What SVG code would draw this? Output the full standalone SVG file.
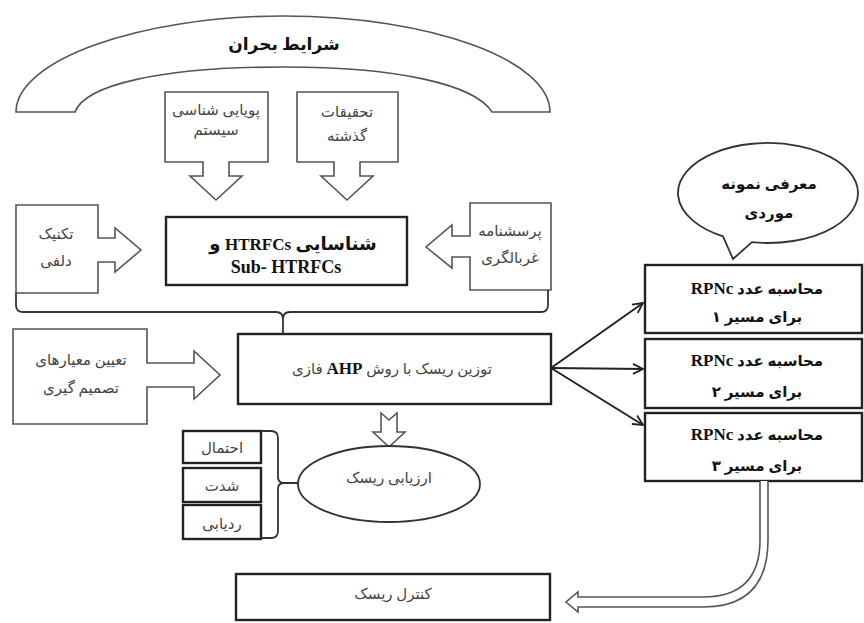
<svg xmlns="http://www.w3.org/2000/svg" width="864" height="623" viewBox="0 0 864 623">
<defs>
<style>
.ol{fill:#fff;stroke:#555;stroke-width:1.6;stroke-linejoin:miter}
.bx{fill:#fff;stroke:#222;stroke-width:2.4}
.bn{fill:#fff;stroke:#333;stroke-width:1.8}
.ln{fill:none;stroke:#333;stroke-width:1.8}
.cn{fill:none;stroke:#222;stroke-width:2}
.t{font-family:"Liberation Serif","DejaVu Sans",serif;font-size:15px;fill:#444;text-anchor:middle;direction:rtl}
.b{font-weight:bold;fill:#111}
.big{font-size:18px}
.arch{font-size:17px}
.lat{font-family:"Liberation Serif",serif;font-size:17px}
</style>
<marker id="ah" viewBox="0 0 12 12" refX="11" refY="6" markerWidth="12" markerHeight="12" markerUnits="userSpaceOnUse" orient="auto">
<path d="M1,1 L11,6 L1,11" fill="none" stroke="#222" stroke-width="1.8"/>
</marker>
</defs>
<rect width="864" height="623" fill="#fff"/>

<g id="crisis">
<path class="ol" d="M16,112 C16,60 140,16 284,16 C430,16 550,60 550,112 L492,112 C475,85 400,67 284,67 C160,67 85,85 75,112 Z"/>
<text class="t b arch" x="284" y="50">شرایط بحران</text>
</g>

<g id="system-dynamics">
<path class="ol" d="M165,92 H268 V162 H229 V176 H242 L216,200 L190,176 H203 V162 H165 Z"/>
<text class="t" x="216" y="115">پویایی شناسی</text>
<text class="t" x="216" y="135">سیستم</text>
</g>

<g id="past-research">
<path class="ol" d="M297,92 H398 V162 H360 V176 H373 L347,200 L321,176 H334 V162 H297 Z"/>
<text class="t" x="347" y="117">تحقیقات</text>
<text class="t" x="347" y="141">گذشته</text>
</g>

<g id="delphi">
<path class="ol" d="M16,205 H98 V238 H115 V228 L141,250 L115,272 V262 H98 V293 H16 Z"/>
<text class="t" x="56" y="239">تکنیک</text>
<text class="t" x="56" y="266">دلفی</text>
</g>

<g id="questionnaire">
<path class="ol" d="M551,203 H470 V236 H452 V225 L426,247 L452,268 V257 H470 V290 H551 Z"/>
<text class="t" x="510" y="236">پرسشنامه</text>
<text class="t" x="510" y="263">غربالگری</text>
</g>

<g id="identify">
<rect class="bx" x="166" y="217" width="241" height="68"/>
<text class="t b big" x="293" y="250">شناسایی <tspan class="lat">HTRFCs</tspan> و</text>
<text class="t b big" x="286" y="273" style="direction:ltr;font-family:'Liberation Serif',serif">Sub- HTRFCs</text>
</g>

<g id="criteria">
<path class="ol" d="M13,329 H147 V363 H194 V351 L220,375 L194,399 V387 H147 V424 H13 Z"/>
<text class="t" x="81" y="365">تعیین معیارهای</text>
<text class="t" x="81" y="393">تصمیم گیری</text>
</g>

<g id="ahp">
<rect class="bx" x="238" y="334" width="313" height="70"/>
<text class="t" x="392" y="374">توزین ریسک با روش <tspan class="b lat">AHP</tspan> فازی</text>
</g>

<g id="down-arrow">
<path class="ol" d="M381,413 L389,420 L397,413 V432 H405 L389,447 L373,432 H381 Z"/>
</g>

<g id="factors">
<rect class="bx" x="183" y="431" width="78" height="32"/>
<text class="t" x="222" y="453">احتمال</text>
<rect class="bx" x="183" y="468" width="78" height="34"/>
<text class="t" x="222" y="491">شدت</text>
<rect class="bx" x="183" y="505" width="78" height="34"/>
<text class="t" x="222" y="529">ردیابی</text>
</g>

<g id="assessment">
<ellipse class="bn" cx="389" cy="484" rx="91" ry="38"/>
<text class="t" x="389" y="483">ارزیابی ریسک</text>
</g>

<g id="control">
<rect class="bx" x="236" y="574" width="314" height="46"/>
<text class="t" x="393" y="599">کنترل ریسک</text>
</g>

<g id="case-study">
<path class="bn" d="M723,236.3 L733,259 L752,242.2 A90,50 0 1 0 723,236.3 Z"/>
<text class="t b" x="769" y="189">معرفی نمونه</text>
<text class="t b" x="769" y="218">موردی</text>
</g>

<g id="rpn1">
<rect class="bx" x="645" y="265" width="217" height="68"/>
<text class="t b" x="757" y="294">محاسبه عدد <tspan class="lat">RPNc</tspan></text>
<text class="t b" x="757" y="322">برای مسیر ۱</text>
</g>

<g id="rpn2">
<rect class="bx" x="645" y="339" width="217" height="69"/>
<text class="t b" x="757" y="366">محاسبه عدد <tspan class="lat">RPNc</tspan></text>
<text class="t b" x="757" y="397">برای مسیر ۲</text>
</g>

<g id="rpn3">
<rect class="bx" x="645" y="413" width="217" height="68"/>
<text class="t b" x="757" y="440">محاسبه عدد <tspan class="lat">RPNc</tspan></text>
<text class="t b" x="757" y="471">برای مسیر ۳</text>
</g>

<g id="connectors">
<path class="ln" d="M16,293 V305 Q16,312 23,312 H276 Q283,312 283,319 V334 M283,319 Q283,312 290,312 H541 Q548,312 548,305 V290"/>
<path class="ln" d="M261,431 H271 Q278,431 278,438 V477 Q278,483 284,483 H298 M284,483 Q278,483 278,489 V531 Q278,538 271,538 H261"/>
<line class="cn" x1="551" y1="368" x2="643" y2="303" marker-end="url(#ah)"/>
<line class="cn" x1="551" y1="368" x2="643" y2="369" marker-end="url(#ah)"/>
<line class="cn" x1="551" y1="368" x2="643" y2="425" marker-end="url(#ah)"/>
<path class="ol" d="M760,481 V540 Q760,597 703,597 H578 V592 L566,602 L578,612 V607 H703 Q768,607 768,540 V481"/>
</g>
</svg>
